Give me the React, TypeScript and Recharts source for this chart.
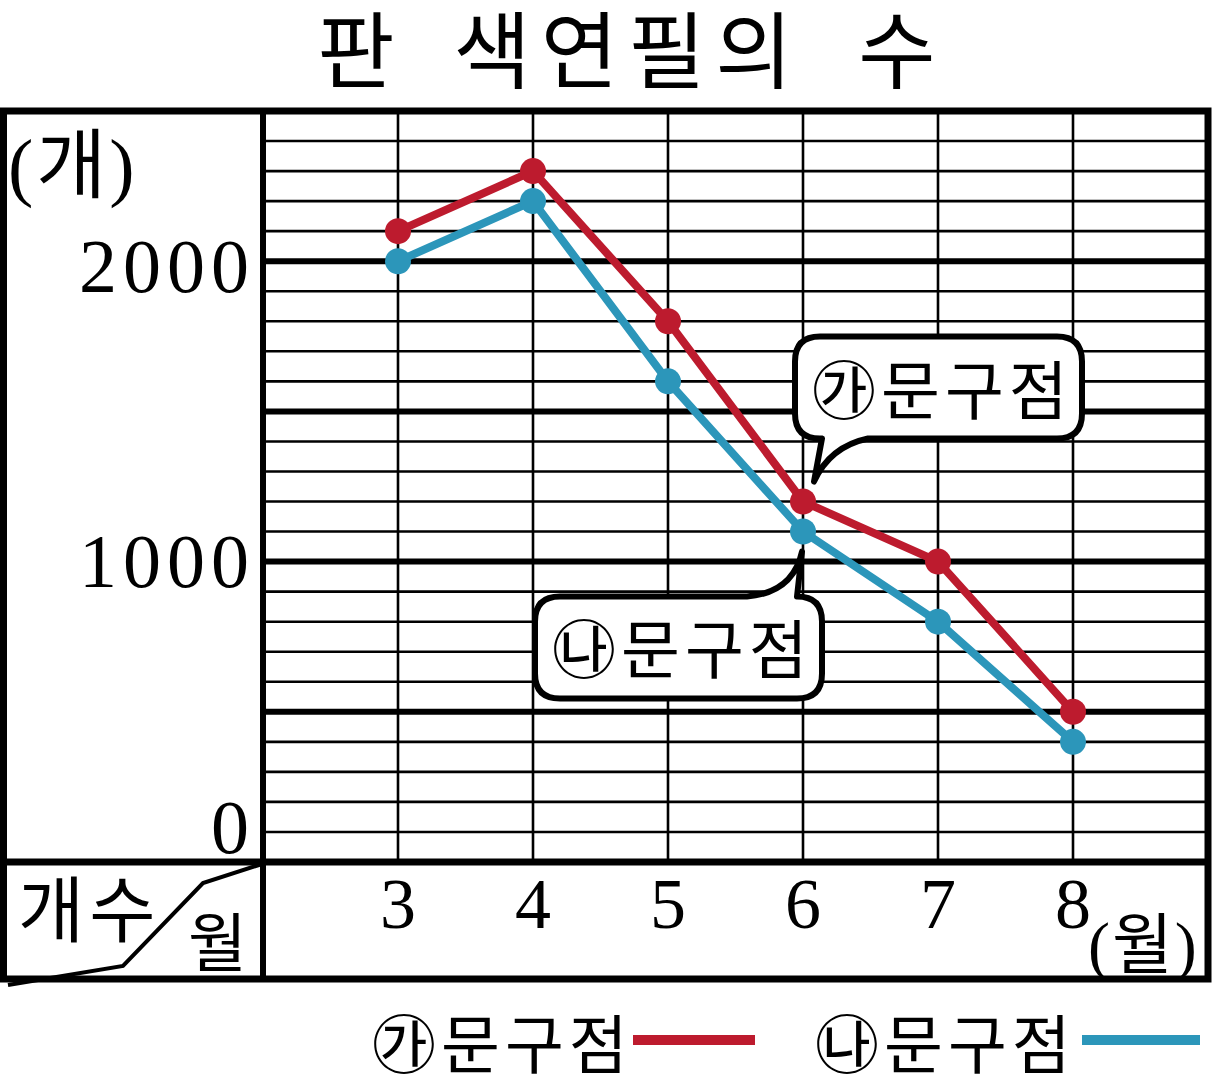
import React from 'react';
import {
  ComposedChart,
  Line,
  XAxis,
  YAxis,
  CartesianGrid,
  ReferenceLine,
  Legend,
  LabelList,
} from 'recharts';

// ---- data ----
const months = [3, 4, 5, 6, 7, 8];
const storeA = [2100, 2300, 1800, 1200, 1000, 500]; // ㉮문구점
const storeB = [2000, 2200, 1600, 1100, 800, 400]; // ㉯문구점
const seriesNames = ['㉮문구점', '㉯문구점'];
const yTicks = [0, 100, 200, 300, 400, 500, 600, 700, 800, 900, 1000, 1100, 1200, 1300, 1400, 1500, 1600, 1700, 1800, 1900, 2000, 2100, 2200, 2300, 2400, 2500];
const yMajorTicks = [500, 1000, 1500, 2000];
const yLabelTicks = [0, 1000, 2000];
const calloutMonth = 6;
const titleWords = ['판', '색연필의', '수'];
const titleX = [356, 628, 897];

const RED = '#bd1b2e';
const BLUE = '#2c96ba';
const KR = "'Noto Sans CJK KR', 'Noto Sans', sans-serif";
const SERIF = "'Liberation Serif', 'Times New Roman', serif";

const data = months.map((m, i) => ({ month: m, a: storeA[i], b: storeB[i] }));
const calloutIndex = months.indexOf(calloutMonth);

const yLabelDy: Record<number, number> = { 0: -9, 1000: 25, 2000: 31 };

const renderXTick = (props: any) => {
  const { x, y, payload } = props;
  return (
    <text x={x} y={y + 66} textAnchor="middle" fontFamily={SERIF} fontSize={72} fill="#000">
      {payload.value}
    </text>
  );
};

const renderYTick = (props: any) => {
  const { x, y, payload } = props;
  if (!yLabelTicks.includes(payload.value)) return <g />;
  return (
    <text
      x={x - 8}
      y={y + (yLabelDy[payload.value] ?? 0)}
      textAnchor="end"
      fontFamily={SERIF}
      fontSize={76}
      letterSpacing={6}
      fill="#000"
    >
      {payload.value}
    </text>
  );
};

const getXY = (props: any) => {
  const x = props.x ?? props.viewBox?.x;
  const y = props.y ?? props.viewBox?.y;
  return { x, y };
};

const CalloutA = (props: any) => {
  if (props.index !== calloutIndex) return <g />;
  const { x: cx, y: cy } = getXY(props);
  const L = cx - 8, R = cx + 279, T = cy - 165, B = cy - 63, r = 25;
  const tipX = cx + 11, tipY = cy - 20;
  const b1 = cx + 19, b2 = cx + 65;
  const d = `M ${L + r} ${T} H ${R - r} Q ${R} ${T} ${R} ${T + r} V ${B - r} Q ${R} ${B} ${R - r} ${B} H ${b2} Q ${cx + 27} ${B + 8} ${tipX} ${tipY} L ${b1} ${B} H ${L + r} Q ${L} ${B} ${L} ${B - r} V ${T + r} Q ${L} ${T} ${L + r} ${T} Z`;
  return (
    <g>
      <path d={d} fill="#fff" stroke="#000" strokeWidth={6} strokeLinejoin="round" />
      <text x={cx + 9} y={cy - 88} fontFamily={KR} fontSize={64} letterSpacing={5} fill="#000">
        {seriesNames[0]}
      </text>
    </g>
  );
};

const CalloutB = (props: any) => {
  if (props.index !== calloutIndex) return <g />;
  const { x: cx, y: cy } = getXY(props);
  const L = cx - 268, R = cx + 19, T = cy + 65, B = cy + 167, r = 25;
  const tipX = cx - 1, tipY = cy + 20;
  const d = `M ${L + r} ${T} H ${cx - 56} Q ${cx - 10} ${T - 4} ${tipX} ${tipY} L ${cx - 6} ${T} Q ${R} ${T} ${R} ${T + r} V ${B - r} Q ${R} ${B} ${R - r} ${B} H ${L + r} Q ${L} ${B} ${L} ${B - r} V ${T + r} Q ${L} ${T} ${L + r} ${T} Z`;
  return (
    <g>
      <path d={d} fill="#fff" stroke="#000" strokeWidth={6} strokeLinejoin="round" />
      <text x={cx - 251} y={cy + 141} fontFamily={KR} fontSize={64} letterSpacing={5} fill="#000">
        {seriesNames[1]}
      </text>
    </g>
  );
};

const legendLeft = [372, 815];
const legendBarWidth = [122, 118];
const legendGap = [0, 6];

const renderLegend = (props: any) => {
  const payload = props.payload || [];
  return (
    <div style={{ position: 'relative', width: 1213, height: 80 }}>
      {payload.map((p: any, i: number) => (
        <div
          key={i}
          style={{
            position: 'absolute',
            left: legendLeft[i],
            top: 0,
            height: 80,
            display: 'flex',
            alignItems: 'center',
            whiteSpace: 'nowrap',
          }}
        >
          <span style={{ fontFamily: KR, fontSize: 64, lineHeight: '80px', letterSpacing: 5, color: '#000' }}>{p.value}</span>
          <span
            style={{
              display: 'inline-block',
              width: legendBarWidth[i],
              height: 10,
              background: p.color,
              marginLeft: legendGap[i],
            }}
          />
        </div>
      ))}
    </div>
  );
};

export default function App() {
  return (
    <div style={{ position: 'absolute', left: 0, top: 0, width: 1213, height: 1082, background: '#fff' }}>
      <ComposedChart
        width={1213}
        height={1082}
        data={data}
        margin={{ top: 111, right: 5, bottom: 100, left: 0 }}
      >
        <CartesianGrid stroke="#000" strokeWidth={2.6} />
        {yMajorTicks.map((v) => (
          <ReferenceLine key={v} y={v} stroke="#000" strokeWidth={6} />
        ))}
        <XAxis
          dataKey="month"
          type="number"
          domain={[2, 9]}
          ticks={months}
          interval={0}
          height={120}
          axisLine={false}
          tickLine={false}
          tickSize={0}
          tickMargin={0}
          tick={renderXTick}
        />
        <YAxis
          type="number"
          domain={[0, 2500]}
          ticks={yTicks}
          interval={0}
          width={263}
          axisLine={false}
          tickLine={false}
          tickSize={0}
          tickMargin={0}
          tick={renderYTick}
        />
        <Legend
          verticalAlign="middle"
          layout="horizontal"
          align="center"
          wrapperStyle={{ position: 'absolute', top: 1000, left: 0, width: 1213, height: 80 }}
          content={renderLegend}
        />

        {/* frame */}
        <g>
          <rect x={3.5} y={111} width={1204.5} height={868} fill="none" stroke="#000" strokeWidth={7} />
          <line x1={263} y1={108} x2={263} y2={982} stroke="#000" strokeWidth={6} />
          <line x1={0} y1={862} x2={1211} y2={862} stroke="#000" strokeWidth={7} />
          <polyline points="8,985 123,966 203,883 262,864" fill="none" stroke="#000" strokeWidth={4} />
          {titleWords.map((w, i) => (
            <text
              key={w}
              x={titleX[i]}
              y={82}
              fontFamily={KR}
              fontSize={84}
              letterSpacing={i === 1 ? 10 : 0}
              fill="#000"
              textAnchor="middle"
            >
              {w}
            </text>
          ))}
          <text x={8} y={192} fontSize={76} letterSpacing={3} fill="#000">
            <tspan fontFamily={SERIF}>(</tspan>
            <tspan fontFamily={KR}>개</tspan>
            <tspan fontFamily={SERIF}>)</tspan>
          </text>
          <text x={18} y={936} fontFamily={KR} fontSize={72} letterSpacing={5} fill="#000">개수</text>
          <text x={188} y={966} fontFamily={KR} fontSize={64} fill="#000">월</text>
          <text x={1088} y={968} fontSize={66} letterSpacing={2} fill="#000">
            <tspan fontFamily={SERIF}>(</tspan>
            <tspan fontFamily={KR}>월</tspan>
            <tspan fontFamily={SERIF}>)</tspan>
          </text>
        </g>

        <Line
          dataKey="a"
          name={seriesNames[0]}
          stroke={RED}
          strokeWidth={8}
          dot={{ r: 13, fill: RED, stroke: RED, strokeWidth: 0 }}
          activeDot={false}
          isAnimationActive={false}
        >
          <LabelList dataKey="a" content={CalloutA} />
        </Line>
        <Line
          dataKey="b"
          name={seriesNames[1]}
          stroke={BLUE}
          strokeWidth={8}
          dot={{ r: 13, fill: BLUE, stroke: BLUE, strokeWidth: 0 }}
          activeDot={false}
          isAnimationActive={false}
        >
          <LabelList dataKey="b" content={CalloutB} />
        </Line>
      </ComposedChart>
    </div>
  );
}
